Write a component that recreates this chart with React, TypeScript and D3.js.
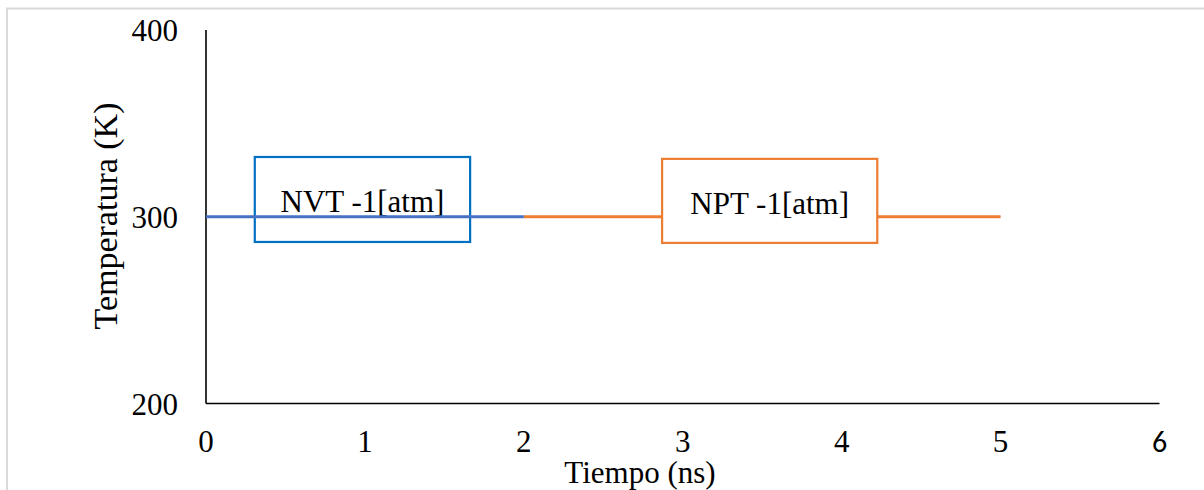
import React from "react";
import * as d3 from "d3";

// Simulation stages: time (ns) vs. temperature (K)
const nvtTime = [0, 2];
const nvtTemp = [300, 300];
const nptTime = [2, 5];
const nptTemp = [300, 300];

const xTicks = [0, 1, 2, 3, 4, 5, 6];
const yTicks = [200, 300, 400];

// Stage labels: [t0, t1] and [T top, T bottom] in data units
const stageLabels = ["NVT -1[atm]", "NPT -1[atm]"];
const stageSpanT = [[0.307, 1.662], [2.87, 4.224]];
const stageSpanK = [[332, 286.5], [331, 286]];

const W = 1204;
const H = 490;
const SERIF = "'Liberation Serif', 'Times New Roman', serif";

export default function App() {
  const x = d3.scaleLinear().domain([0, 6]).range([206, 1159.5]);
  const y = d3.scaleLinear().domain([200, 400]).range([403.5, 30]);

  const line = d3
    .line<[number, number]>()
    .x((d) => x(d[0]))
    .y((d) => y(d[1]));

  const nvt = nvtTime.map((t, i) => [t, nvtTemp[i]] as [number, number]);
  const npt = nptTime.map((t, i) => [t, nptTemp[i]] as [number, number]);

  const boxColors = ["#0070C0", "#ED7D31"];
  const boxFills = ["none", "#ffffff"];

  const box = (i: number) => {
    const [t0, t1] = stageSpanT[i];
    const [k0, k1] = stageSpanK[i];
    const x0 = x(t0);
    const x1 = x(t1);
    const y0 = y(k0);
    const y1 = y(k1);
    return (
      <g key={"box" + i}>
        <rect
          x={x0}
          y={y0}
          width={x1 - x0}
          height={y1 - y0}
          fill={boxFills[i]}
          stroke={boxColors[i]}
          strokeWidth={2.2}
        />
        <text
          x={(x0 + x1) / 2}
          y={i === 0 ? 212 : 214}
          textAnchor="middle"
          fontFamily={SERIF}
          fontSize={31}
          fill="#000"
        >
          {stageLabels[i]}
        </text>
      </g>
    );
  };

  return (
    <svg
      width={W}
      height={H}
      style={{ position: "absolute", left: 0, top: 0, background: "#fff" }}
    >
      <rect x={0} y={0} width={W} height={H} fill="#fff" />
      {/* chart area frame */}
      <rect
        x={7}
        y={8.5}
        width={W + 20}
        height={H + 20}
        fill="none"
        stroke="#d9d9d9"
        strokeWidth={2}
      />

      {/* axes */}
      <line x1={x(0)} x2={x(0)} y1={y(400)} y2={y(200)} stroke="#000" strokeWidth={1.6} />
      <line x1={x(0)} x2={x(6)} y1={y(200)} y2={y(200)} stroke="#000" strokeWidth={1.6} />

      {/* y tick labels */}
      {yTicks.map((v) => (
        <text
          key={"y" + v}
          x={178}
          y={y(v) + 11}
          textAnchor="end"
          fontFamily={SERIF}
          fontSize={31}
          fill="#000"
        >
          {v}
        </text>
      ))}

      {/* x tick labels */}
      {xTicks.map((v) => (
        <text
          key={"x" + v}
          x={x(v)}
          y={452}
          textAnchor="middle"
          fontFamily={v === 6 ? "Carlito, 'Liberation Sans', sans-serif" : SERIF}
          fontSize={v === 6 ? 30 : 31}
          fill="#000"
        >
          {v}
        </text>
      ))}

      {/* series */}
      <path d={line(npt) ?? ""} fill="none" stroke="#ED7D31" strokeWidth={3} />
      {box(1)}
      {box(0)}
      <path d={line(nvt) ?? ""} fill="none" stroke="#4472C4" strokeWidth={3} />

      {/* axis titles */}
      <text
        x={640}
        y={483}
        textAnchor="middle"
        fontFamily={SERIF}
        fontSize={31}
        fill="#000"
      >
        Tiempo (ns)
      </text>
      <text
        transform={`translate(117, 216) rotate(-90)`}
        textAnchor="middle"
        fontFamily={SERIF}
        fontSize={34}
        fill="#000"
      >
        Temperatura (K)
      </text>
    </svg>
  );
}
